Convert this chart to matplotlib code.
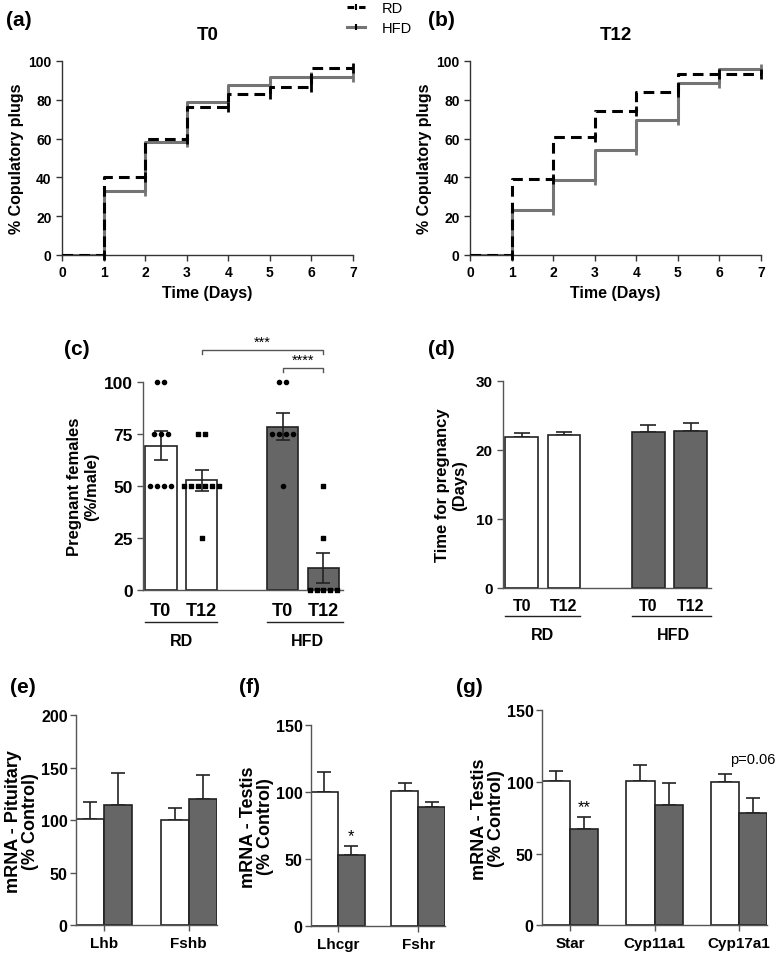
import matplotlib
matplotlib.use('Agg')
import matplotlib.pyplot as plt
from matplotlib.lines import Line2D
import numpy as np

plt.rcParams['font.family'] = ['Liberation Sans', 'DejaVu Sans']
plt.rcParams['font.weight'] = 'bold'
plt.rcParams['axes.labelweight'] = 'bold'
plt.rcParams['axes.linewidth'] = 1.0

GREY = '#666666'
LINE_GREY = '#747474'
SPINE = '#333333'

# --- (a)/(b) cumulative copulatory plugs ---
days = [0, 1, 2, 3, 4, 5, 6, 7]
t0_rd = [0, 40, 60, 76.5, 83, 86.5, 96.5]
t0_hfd = [0, 33, 58, 79, 87.5, 91.5, 91.5]
t12_rd = [0, 39, 61, 74, 84, 93.5, 93.5]
t12_hfd = [0, 23, 38.5, 54, 69.5, 88.5, 96]

# --- (c) pregnant females ---
groups_c = ['T0', 'T12', 'T0', 'T12']
preg_mean = [69.4, 52.8, 78.6, 10.7]
preg_sem = [7.0, 5.0, 6.5, 7.3]
preg_pts = [[100, 100, 75, 75, 75, 50, 50, 50, 50],
            [75, 75, 50, 50, 50, 50, 50, 50, 25],
            [100, 100, 75, 75, 75, 75, 50],
            [50, 25, 0, 0, 0, 0, 0]]

# --- (d) time for pregnancy ---
time_mean = [21.9, 22.1, 22.6, 22.7]
time_sem = [0.5, 0.5, 1.0, 1.2]

# --- (e)(f)(g) mRNA ---
pit_genes = ['Lhb', 'Fshb']
pit_ctrl = [101, 100]
pit_ctrl_err = [16, 12]
pit_hfd = [115, 120]
pit_hfd_err = [30, 23]

tes1_genes = ['Lhcgr', 'Fshr']
tes1_ctrl = [100, 101]
tes1_ctrl_err = [15, 6]
tes1_hfd = [53, 89]
tes1_hfd_err = [7, 4]

tes2_genes = ['Star', 'Cyp11a1', 'Cyp17a1']
tes2_ctrl = [100.5, 101, 100]
tes2_ctrl_err = [7, 10.5, 5.5]
tes2_hfd = [67, 84, 78.5]
tes2_hfd_err = [8.5, 15, 10]

fig = plt.figure(figsize=(7.77, 9.54), dpi=100)


def style(ax, color=SPINE):
    for s in ['top', 'right']:
        ax.spines[s].set_visible(False)
    for s in ['left', 'bottom']:
        ax.spines[s].set_color(color)
    ax.tick_params(direction='out', length=4, width=1, color=color)


def steps(ax, rd, hfd, title):
    x = np.array(days)
    ax.step(x, rd + [rd[-1]], where='post', color='black', lw=2.2, ls=(0, (3.5, 2.0)), zorder=3)
    ax.step(x, hfd + [hfd[-1]], where='post', color=LINE_GREY, lw=2.2, zorder=2)
    # censor ticks at each step
    ax.plot(x[1:], hfd, ls='none', marker='|', ms=7, mew=2, color=LINE_GREY, zorder=2, clip_on=False)
    ax.plot(x[1:], rd, ls='none', marker='|', ms=7, mew=2, color='black', zorder=3, clip_on=False)
    ax.set_xlim(0, 7)
    ax.set_ylim(0, 100)
    ax.set_xticks(days)
    ax.set_yticks([0, 20, 40, 60, 80, 100])
    ax.tick_params(labelsize=10)
    ax.set_xlabel('Time (Days)', fontsize=11.5, labelpad=4)
    ax.set_ylabel('% Copulatory plugs', fontsize=11.5, labelpad=3)
    ax.set_title(title, fontsize=13.5, fontweight='bold', pad=16)
    style(ax)


ax_a = fig.add_axes([0.0798, 0.7317, 0.3745, 0.2034])
steps(ax_a, t0_rd, t0_hfd, 'T0')
ax_b = fig.add_axes([0.6049, 0.7317, 0.3745, 0.2034])
steps(ax_b, t12_rd, t12_hfd, 'T12')

h_rd = Line2D([], [], color='black', lw=2.2, ls=(0, (2.2, 1.6)), marker='|', ms=5,
              mew=1.5, mec='black')
h_hfd = Line2D([], [], color=LINE_GREY, lw=2.2, marker='|', ms=5, mew=1.5, mec='black')
fig.legend([h_rd, h_hfd], ['RD', 'HFD'], loc='upper left', bbox_to_anchor=(0.43, 1.012),
           frameon=False, handlelength=1.2, handletextpad=1.2, labelspacing=0.45,
           numpoints=1, prop={'size': 10.5, 'weight': 'normal'})

# --- (c) ---
pos = np.array([0, 1, 3, 4])
cols = ['white', 'white', GREY, GREY]
ax_c = fig.add_axes([0.184, 0.3805, 0.2574, 0.218])
ax_c.bar(pos, preg_mean, width=0.77, color=cols, edgecolor='#222222', lw=1.2, zorder=1)
ax_c.errorbar(pos, preg_mean, yerr=preg_sem, fmt='none', ecolor='#222222', elinewidth=1.2,
              capsize=4.7, capthick=1.2, zorder=4)
markers = ['o', 's', 'o', 's']
for p, pts, m in zip(pos, preg_pts, markers):
    vals, counts = np.unique(pts, return_counts=True)
    for v, c in zip(vals, counts):
        offs = (np.arange(c) - (c - 1) / 2) * 0.17
        ax_c.scatter(p + offs, [v] * c, marker=m, s=9, color='black', zorder=5, clip_on=False)
ax_c.set_xlim(-0.44, 4.48)
ax_c.set_ylim(0, 100)
ax_c.set_yticks([0, 25, 50, 75, 100])
ax_c.set_xticks([])
ax_c.tick_params(labelsize=12.5)
ax_c.set_ylabel('Pregnant females\n(%/male)', fontsize=12, labelpad=3)
style(ax_c, '#555555')
for p, g in zip(pos, groups_c):
    ax_c.text(p, -10, g, ha='center', va='center', fontsize=13, clip_on=False)
for (x0, x1), name in zip([(-0.385, 1.385), (2.615, 4.48)], ['RD', 'HFD']):
    ax_c.plot([x0, x1], [-15.4, -15.4], color='#222222', lw=1, clip_on=False)
    ax_c.text((x0 + x1) / 2 + (0.05 if name == 'HFD' else 0), -24.5, name, ha='center',
              va='center', fontsize=11.5, clip_on=False)
# significance brackets
for (x0, x1), y, lab in zip([(1, 4), (3, 4)], [115.4, 106.7], ['***', '****']):
    ax_c.plot([x0, x0, x1, x1], [y - 2, y, y, y - 2], color='#555555', lw=1, clip_on=False)
    ax_c.text((x0 + x1) / 2, y + 0.5, lab, ha='center', va='bottom', fontsize=10.5,
              fontweight='normal', clip_on=False)

# --- (d) ---
ax_d = fig.add_axes([0.6474, 0.3826, 0.2677, 0.217])
ax_d.bar(pos, time_mean, width=0.77, color=cols, edgecolor='#222222', lw=1.2, zorder=1)
ax_d.errorbar(pos, time_mean, yerr=[[0] * 4, time_sem], fmt='none', ecolor='#222222',
              elinewidth=1.2, capsize=6, capthick=1.2, zorder=0)
ax_d.set_xlim(-0.44, 4.48)
ax_d.set_ylim(0, 30)
ax_d.set_yticks([0, 10, 20, 30])
ax_d.set_xticks([])
ax_d.tick_params(labelsize=11)
ax_d.set_ylabel('Time for pregnancy\n(Days)', fontsize=12, labelpad=6)
style(ax_d, '#555555')
for p, g in zip(pos, groups_c):
    ax_d.text(p, -2.6, g, ha='center', va='center', fontsize=11.5, clip_on=False)
for (x0, x1), name in zip([(-0.385, 1.385), (2.615, 4.48)], ['RD', 'HFD']):
    ax_d.plot([x0, x1], [-4.06, -4.06], color='#222222', lw=1, clip_on=False)
    ax_d.text((x0 + x1) / 2 + (0.05 if name == 'HFD' else 0), -6.7, name, ha='center',
              va='center', fontsize=11.5, clip_on=False)


# --- (e)(f)(g) ---
def mrna(rect, genes, ctrl, cerr, hfd, herr, ymax, ylabel):
    ax = fig.add_axes(rect)
    x = np.arange(len(genes)) * 3.0
    ax.bar(x - 0.5, ctrl, width=1.0, color='white', edgecolor='#222222', lw=1.2)
    ax.bar(x + 0.5, hfd, width=1.0, color=GREY, edgecolor='#222222', lw=1.2)
    ax.errorbar(x - 0.5, ctrl, yerr=[[0] * len(x), cerr], fmt='none', ecolor='#222222',
                elinewidth=1.2, capsize=5, capthick=1.2, zorder=0)
    ax.errorbar(x + 0.5, hfd, yerr=[[0] * len(x), herr], fmt='none', ecolor='#222222',
                elinewidth=1.2, capsize=5, capthick=1.2, zorder=0)
    ax.set_xlim(-1, x[-1] + 1)
    ax.set_ylim(0, ymax)
    ax.set_yticks(np.arange(0, ymax + 1, 50))
    ax.set_xticks(x)
    ax.set_xticklabels(genes, fontsize=11)
    ax.tick_params(axis='x', length=0, pad=4)
    ax.tick_params(axis='y', labelsize=11.5, pad=2)
    ax.set_ylabel(ylabel, fontsize=13, labelpad=1, linespacing=1.05)
    style(ax, '#555555')
    return ax, x


ax_e, _ = mrna([0.0978, 0.0290, 0.1815, 0.2201], pit_genes, pit_ctrl, pit_ctrl_err,
               pit_hfd, pit_hfd_err, 200, 'mRNA - Pituitary\n(% Control)')
ax_f, xf = mrna([0.4003, 0.0280, 0.1725, 0.2107], tes1_genes, tes1_ctrl, tes1_ctrl_err,
                tes1_hfd, tes1_hfd_err, 150, 'mRNA - Testis\n(% Control)')
ax_f.text(xf[0] + 0.5, tes1_hfd[0] + tes1_hfd_err[0] + 2, '*', ha='center', va='bottom',
          fontsize=12, fontweight='normal')
ax_g, xg = mrna([0.6976, 0.0290, 0.2896, 0.2254], tes2_genes, tes2_ctrl, tes2_ctrl_err,
                tes2_hfd, tes2_hfd_err, 150, 'mRNA - Testis\n(% Control)')
ax_g.text(xg[0] + 0.5, tes2_hfd[0] + tes2_hfd_err[0] + 2, '**', ha='center', va='bottom',
          fontsize=12, fontweight='normal')
ax_g.text(xg[2] + 0.5, 116, 'p=0.06', ha='center', va='center', fontsize=10.5,
          fontweight='normal')

# panel letters
for lab, x, y in [('(a)', 0.008, 0.979), ('(b)', 0.551, 0.979), ('(c)', 0.083, 0.634),
                  ('(d)', 0.551, 0.634), ('(e)', 0.013, 0.279), ('(f)', 0.308, 0.279),
                  ('(g)', 0.587, 0.279)]:
    fig.text(x, y, lab, fontsize=15, fontweight='bold', va='center')

fig.savefig('out.png', dpi=100)
